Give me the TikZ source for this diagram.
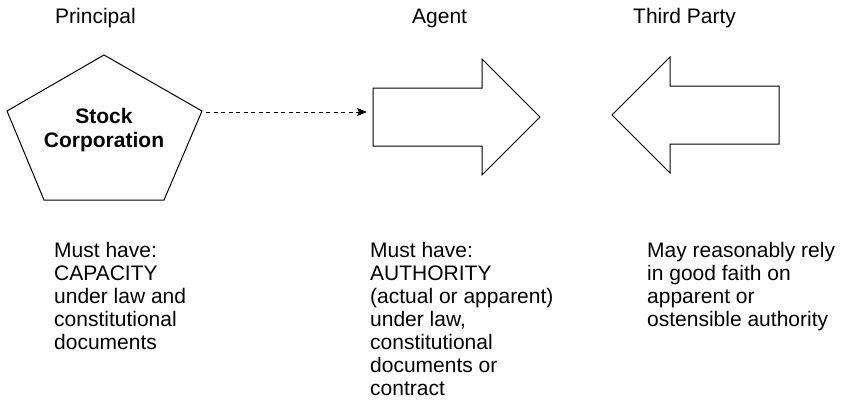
\documentclass[tikz,border=0pt]{standalone}
\usepackage{fontspec}
\setmainfont{Liberation Sans}
\usetikzlibrary{arrows.meta}
% multi-line caption block, left aligned, first baseline at the anchor
\newcommand\captionblock[2]{\parbox[t]{#1}{\fontsize{21}{23}\selectfont\raggedright #2}}
\begin{document}
\begin{tikzpicture}[x=1pt,y=-1pt,
  outline/.style={draw=black, line width=1pt, line join=miter},
  title/.style={anchor=base west, inner sep=0pt, font=\fontsize{21}{23}\selectfont},
  note/.style={anchor=base west, inner sep=0pt},
  inner/.style={anchor=base, inner sep=0pt},
  link/.style={draw=black, line width=1pt, dash pattern=on 4pt off 3.5pt,
    -{Stealth[length=10pt,width=8pt,inset=2pt]}}
]
\useasboundingbox[fill=white] (0,0) rectangle (843,404);

% column headings
\node[title] (hPrincipal) at (55,24) {Principal};
\node[title] (hAgent) at (412,24) {Agent};
\node[title] (hThird) at (633,24) {Third Party};

% principal: pentagon
\coordinate (pTop) at (104,55);
\coordinate (pLeft) at (7,111);
\coordinate (pRight) at (202,111);
\coordinate (pBR) at (164,200);
\coordinate (pBL) at (44,200);
\path[outline] (pTop) -- (pRight) -- (pBR) -- (pBL) -- (pLeft) -- cycle;
\node[inner] (corp) at (104,123)
  {\parbox[t]{160pt}{\centering\fontsize{21}{24}\selectfont\bfseries Stock\\Corporation}};

% agent: block arrow pointing right
\coordinate (aTL) at (373,88);
\coordinate (aTR) at (482,88);
\coordinate (aHT) at (482,59);
\coordinate (aTip) at (540,117);
\coordinate (aHB) at (482,175);
\coordinate (aBR) at (482,146);
\coordinate (aBL) at (373,146);
\path[outline] (aTL) -- (aTR) -- (aHT) -- (aTip) -- (aHB) -- (aBR) -- (aBL) -- cycle;

% third party: block arrow pointing left
\coordinate (tTR) at (779,86);
\coordinate (tTL) at (670,86);
\coordinate (tHT) at (670,57);
\coordinate (tTip) at (612,115);
\coordinate (tHB) at (670,173);
\coordinate (tBL) at (670,144);
\coordinate (tBR) at (779,144);
\path[outline] (tTR) -- (tTL) -- (tHT) -- (tTip) -- (tHB) -- (tBL) -- (tBR) -- cycle;

% dashed link from principal to agent
\coordinate (linkStart) at (206,112);
\coordinate (linkEnd) at (367,112);
\draw[link] (linkStart) -- (linkEnd);

% requirements under each column
\node[note] (nPrincipal) at (54,257)
  {\captionblock{200pt}{Must have:\\CAPACITY\\under law and\\constitutional\\documents}};
\node[note] (nAgent) at (370,257)
  {\captionblock{220pt}{Must have:\\AUTHORITY\\(actual or apparent)\\under law,\\constitutional\\documents or\\contract}};
\node[note] (nThird) at (647,257)
  {\captionblock{200pt}{May reasonably rely\\in good faith on\\apparent or\\ostensible authority}};
\end{tikzpicture}
\end{document}
